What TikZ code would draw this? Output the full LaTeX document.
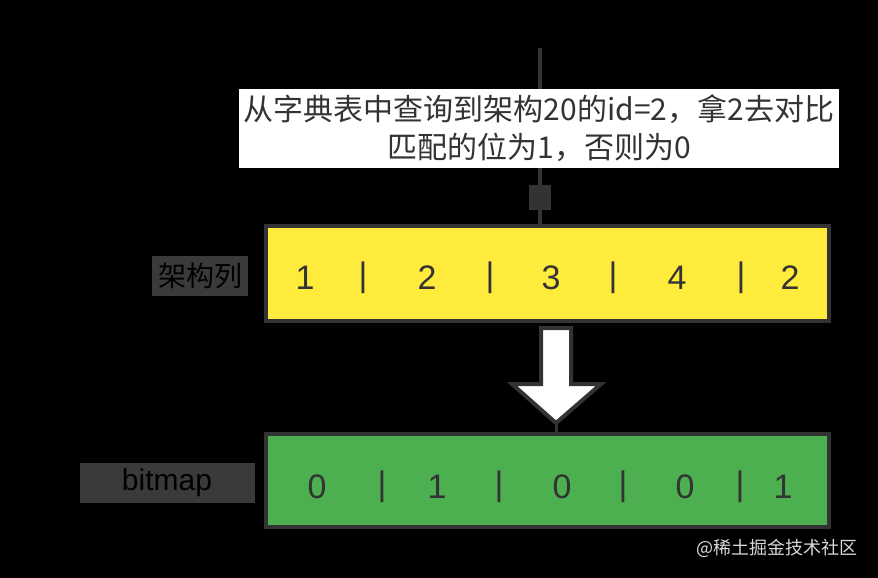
\documentclass[tikz,border=0pt]{standalone}
\usepackage{fontspec}
\setmainfont{Liberation Sans}
\newfontfamily\cjk{Noto Sans CJK SC}
\usepackage{xcolor}
\usepackage{tikz}
\definecolor{rowyellow}{RGB}{255,235,59}
\definecolor{rowgreen}{RGB}{76,175,80}
\definecolor{edge}{RGB}{51,51,51}
\definecolor{tagfill}{RGB}{58,58,58}

\begin{document}
\begin{tikzpicture}[x=1pt, y=-1pt, every node/.style={inner sep=0pt}, line width=4pt]
\useasboundingbox[fill=black] (0,0) rectangle (878,578);

\node (archrow)[draw=edge, fill=rowyellow, minimum width=563, minimum height=95] at (547.5,273.5){};
\node (bitrow)[draw=edge, fill=rowgreen, minimum width=563, minimum height=93] at (547.5,480.5){};

\foreach \x/\t in {305/1, 363/|, 427/2, 490/|, 551/3, 613/|, 677/4, 741/|, 790/2}
  \node[text=edge, font=\fontsize{34}{34}\selectfont] at (\x,278){\t};
\foreach \x/\t in {317/0, 382/|, 437/1, 499/|, 562/0, 623/|, 685/0, 740/|, 783/1}
  \node[text=edge, font=\fontsize{34}{34}\selectfont] at (\x,487){\t};

\coordinate (linetop) at (540,48);
\draw[edge] (linetop) -- (linetop |- archrow.north);

\node (note)[fill=white, text=edge, align=center, minimum width=600, minimum height=79, font=\cjk\fontsize{30}{38}\selectfont] at (539,128)
  {从字典表中查询到架构20的id=2，拿2去对比\\匹配的位为1，否则为0};
\node (dot)[fill=edge, minimum width=22, minimum height=25] at (540,197){};

% big arrow between the rows
\draw[edge, fill=white, line join=miter] (541,328) -- (571,328) -- (571,384) -- (601,384) -- (556,423) -- (512,384) -- (541,384) -- cycle;
\coordinate (tip) at (556,423);
\draw[edge, line width=3pt] (tip) -- (tip |- bitrow.north);

\node (archlabel)[fill=tagfill, text=black, minimum width=96, minimum height=40, font=\cjk\fontsize{28}{28}\selectfont] at (200,276){架构列};
\node (bitlabel)[fill=tagfill, text=black, minimum width=175, minimum height=40, font=\fontsize{30}{30}\selectfont] at (167,483){bitmap};

\node (mark)[text=white!85!black, font=\cjk\fontsize{18}{18}\selectfont] at (777,548){@稀土掘金技术社区};
\end{tikzpicture}
\end{document}
